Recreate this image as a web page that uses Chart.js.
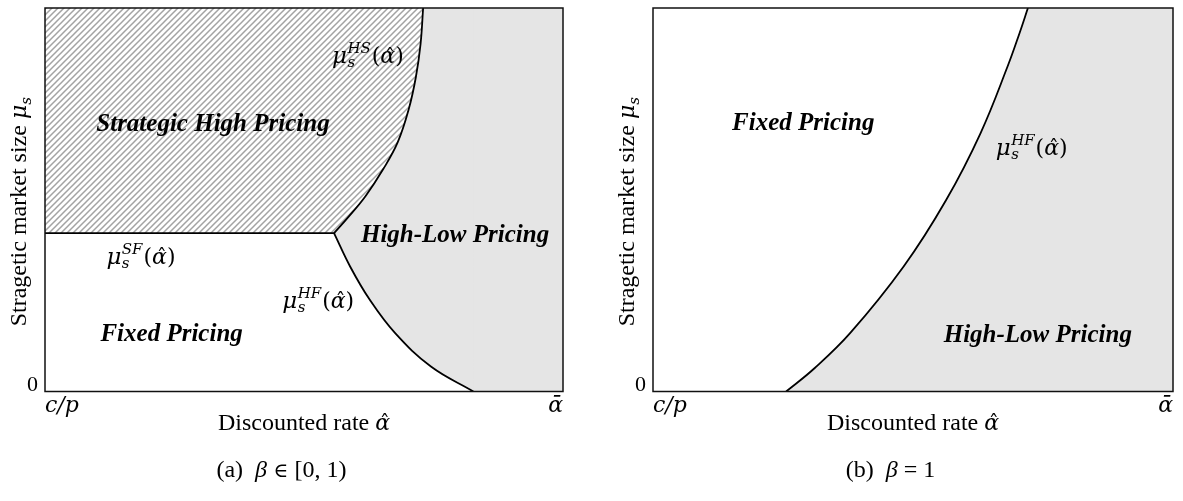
<!DOCTYPE html>
<html>
<head>
<meta charset="utf-8">
<script src="https://cdn.jsdelivr.net/npm/chart.js@4.4.1/dist/chart.umd.min.js"></script>
<style>
  html, body { margin: 0; padding: 0; background: #fff; }
  #wrap { position: relative; width: 1183px; height: 501px; overflow: hidden; }
  canvas { position: absolute; top: 0; }
  #panelA { left: 0; }
  #panelB { left: 608px; }
</style>
</head>
<body>
<div id="wrap">
  <canvas id="panelA" width="608" height="501"></canvas>
  <canvas id="panelB" width="575" height="501"></canvas>
</div>
<script>
// Axis ticks (both panels): discount rate runs from c/p to ᾱ, market size from 0
const xTickValues = [0, 1];
const xTickLabels = ['c/p', 'ᾱ'];
const yTickValues = [0];
const yTickLabels = ['0'];

// (a) β ∈ [0,1): threshold curves in the (α̂, μ_s) plane
const sfX = [0, 0.560];
const sfY = [0.413, 0.413];
const hsX = [0.558, 0.585, 0.619, 0.653, 0.681, 0.702, 0.716, 0.725, 0.730];
const hsY = [0.413, 0.454, 0.510, 0.580, 0.650, 0.735, 0.820, 0.906, 1.000];
const hfX = [0.558, 0.589, 0.627, 0.676, 0.745, 0.827];
const hfY = [0.413, 0.326, 0.239, 0.152, 0.065, 0.000];

// (b) β = 1: single threshold μ_s^HF(α̂)
const hfBX = [0.256, 0.310, 0.379, 0.482, 0.564, 0.630, 0.682, 0.705, 0.721];
const hfBY = [0.000, 0.060, 0.152, 0.326, 0.500, 0.674, 0.848, 0.935, 1.000];

const SERIF = '"Liberation Serif", "Times New Roman", serif';
const MATH = '"DejaVu Serif", serif';
const GRAY = '#e5e5e5';
const INK = '#000';

const pts = (xs, ys) => xs.map((x, i) => ({ x, y: ys[i] }));

function hatchPattern() {
  const c = document.createElement('canvas');
  c.width = 6; c.height = 6;
  const g = c.getContext('2d');
  g.fillStyle = '#fff';
  g.fillRect(0, 0, 6, 6);
  g.strokeStyle = '#a3a3a3';
  g.lineWidth = 1.5;
  g.beginPath();
  g.moveTo(-1, 7); g.lineTo(7, -1);
  g.moveTo(-1, 1); g.lineTo(1, -1);
  g.moveTo(5, 7); g.lineTo(7, 5);
  g.stroke();
  return g.createPattern(c, 'repeat');
}
const HATCH = hatchPattern();

function fillSet(data, target, color, order) {
  return { data, showLine: true, fill: target, backgroundColor: color, borderWidth: 0,
           pointRadius: 0, tension: 0.4, order };
}
function strokeSet(data) {
  return { data, showLine: true, fill: false, borderColor: INK, borderWidth: 1.8,
           pointRadius: 0, tension: 0.4, order: 0 };
}

// ---------- text helpers ----------
function drawHatAlpha(ctx, x, y, size) {
  ctx.font = `italic ${size}px ${MATH}`;
  ctx.fillText('α', x, y);
  const w = ctx.measureText('α').width;
  ctx.font = `${Math.round(size * 0.9)}px ${MATH}`;
  const hw = ctx.measureText('ˆ').width;
  ctx.fillText('ˆ', x + w / 2 - hw / 2 + size * 0.1, y + size * 0.02);
  return w;
}
function hatAlphaWidth(ctx, size) {
  ctx.font = `italic ${size}px ${MATH}`;
  return ctx.measureText('α').width;
}

function drawMuLabel(ctx, x, y, sup) {
  let cx = x;
  ctx.font = `italic 23px ${MATH}`;
  ctx.fillText('μ', cx, y);
  cx += ctx.measureText('μ').width + 0.5;
  ctx.font = `italic 15px ${MATH}`;
  const wSup = ctx.measureText(sup).width;
  const wSub = ctx.measureText('s').width;
  ctx.fillText(sup, cx, y - 10);
  ctx.fillText('s', cx, y + 4);
  cx += Math.max(wSup, wSub) + 1;
  ctx.font = `22px ${MATH}`;
  ctx.fillText('(', cx, y);
  cx += ctx.measureText('(').width;
  cx += drawHatAlpha(ctx, cx, y, 22);
  ctx.font = `22px ${MATH}`;
  ctx.fillText(')', cx, y);
}

function drawRuns(ctx, runs, cx, y) {
  let total = 0;
  runs.forEach(r => { ctx.font = r.font; total += ctx.measureText(r.text).width; });
  let x = cx - total / 2;
  runs.forEach(r => { ctx.font = r.font; ctx.fillText(r.text, x, y + (r.dy || 0)); x += ctx.measureText(r.text).width; });
}

// Region names, threshold names, axis titles, caption and frame
const panelText = {
  id: 'panelText',
  afterDatasetsDraw(chart, args, opts) {
    const { ctx, chartArea: a, scales } = chart;
    const sx = scales.x, sy = scales.y;
    ctx.save();
    ctx.fillStyle = INK;
    ctx.textAlign = 'left';
    ctx.textBaseline = 'alphabetic';

    opts.regions.forEach(r => {
      ctx.font = `italic bold 25px ${SERIF}`;
      ctx.fillText(r.text, sx.getPixelForValue(r.x), sy.getPixelForValue(r.y));
    });
    opts.curves.forEach(c => {
      drawMuLabel(ctx, sx.getPixelForValue(c.x), sy.getPixelForValue(c.y), c.sup);
    });

    // frame
    ctx.strokeStyle = '#111';
    ctx.lineWidth = 1.5;
    ctx.strokeRect(a.left, a.top, a.right - a.left, a.bottom - a.top);

    // x title
    const tx = (a.left + a.right) / 2;
    ctx.font = `24px ${SERIF}`;
    const w1 = ctx.measureText('Discounted rate ').width;
    const w2 = hatAlphaWidth(ctx, 22);
    const x0 = tx - (w1 + w2) / 2;
    ctx.font = `24px ${SERIF}`;
    ctx.fillText('Discounted rate ', x0, 430);
    drawHatAlpha(ctx, x0 + w1, 430, 22);

    // y title (rotated)
    ctx.save();
    ctx.translate(a.left - 19.5, (a.top + a.bottom) / 2 + 12);
    ctx.rotate(-Math.PI / 2);
    drawRuns(ctx, [
      { text: 'Stragetic market size ', font: `24px ${SERIF}` },
      { text: 'μ', font: `italic 22px ${MATH}` },
      { text: 's', font: `italic 15px ${MATH}`, dy: 5 }
    ], 0, 0);
    ctx.restore();

    // caption
    drawRuns(ctx, opts.caption, (a.left - 45 + a.right) / 2, 477);
    ctx.restore();
  }
};

function panelConfig(datasets, textOpts) {
  return {
    type: 'scatter',
    data: { datasets },
    plugins: [panelText],
    options: {
      responsive: false,
      animation: false,
      devicePixelRatio: 1,
      events: [],
      layout: { padding: { left: 0, top: 8, right: textOpts.padRight, bottom: 59.5 } },
      plugins: {
        legend: { display: false },
        tooltip: { enabled: false },
        panelText: textOpts
      },
      scales: {
        x: {
          type: 'linear', min: 0, max: 1,
          grid: { display: false, drawTicks: false },
          border: { display: false },
          ticks: {
            align: 'inner', padding: 2, maxRotation: 0, autoSkip: false, color: INK,
            font: { family: MATH, size: 22, style: 'italic' },
            callback: (v, i) => xTickLabels[i]
          },
          afterBuildTicks: s => { s.ticks = xTickValues.map(v => ({ value: v })); },
          afterFit: s => { s.height = 50; s.paddingLeft = 0; s.paddingRight = 0; }
        },
        y: {
          type: 'linear', min: 0, max: 1,
          grid: { display: false, drawTicks: false },
          border: { display: false },
          ticks: {
            padding: 7, labelOffset: -6, color: INK,
            font: { family: SERIF, size: 22 },
            callback: (v, i) => yTickLabels[i]
          },
          afterBuildTicks: s => { s.ticks = yTickValues.map(v => ({ value: v })); },
          afterFit: s => { s.width = 45; s.paddingTop = 0; s.paddingBottom = 0; }
        }
      }
    }
  };
}

// ----- panel (a) -----
const hfEnd = hfX[hfX.length - 1];
new Chart(document.getElementById('panelA'), panelConfig([
  fillSet([{ x: hfEnd - 0.002, y: 0 }, { x: 1, y: 0 }], 'end', GRAY, 6),
  fillSet(pts(hfX, hfY), 'end', GRAY, 5),
  fillSet(pts(sfX, sfY), 'end', HATCH, 3),
  fillSet(pts(hsX, hsY), 'end', HATCH, 2),
  strokeSet(pts(sfX, sfY)),
  strokeSet(pts(hsX, hsY)),
  strokeSet(pts(hfX, hfY))
], {
  padRight: 45,
  regions: [
    { text: 'Strategic High Pricing', x: 0.099, y: 0.680 },
    { text: 'High-Low Pricing', x: 0.610, y: 0.389 },
    { text: 'Fixed Pricing', x: 0.107, y: 0.131 }
  ],
  curves: [
    { sup: 'HS', x: 0.554, y: 0.856 },
    { sup: 'SF', x: 0.1185, y: 0.333 },
    { sup: 'HF', x: 0.458, y: 0.218 }
  ],
  caption: [
    { text: '(a)  ', font: `24px ${SERIF}` },
    { text: 'β', font: `italic 24px ${SERIF}` },
    { text: ' ∈ ', font: `20px ${MATH}` },
    { text: '[0, 1)', font: `24px ${SERIF}` }
  ]
}));

// ----- panel (b) -----
const hfBEnd = hfBX[hfBX.length - 1];
new Chart(document.getElementById('panelB'), panelConfig([
  fillSet([{ x: hfBEnd - 0.002, y: 1 }, { x: 1, y: 1 }], 'start', GRAY, 6),
  fillSet(pts(hfBX, hfBY), 'start', GRAY, 5),
  strokeSet(pts(hfBX, hfBY))
], {
  padRight: 10,
  regions: [
    { text: 'Fixed Pricing', x: 0.152, y: 0.683 },
    { text: 'High-Low Pricing', x: 0.559, y: 0.130 }
  ],
  curves: [
    { sup: 'HF', x: 0.659, y: 0.617 }
  ],
  caption: [
    { text: '(b)  ', font: `24px ${SERIF}` },
    { text: 'β', font: `italic 24px ${SERIF}` },
    { text: ' = 1', font: `24px ${SERIF}` }
  ]
}));
</script>
</body>
</html>
